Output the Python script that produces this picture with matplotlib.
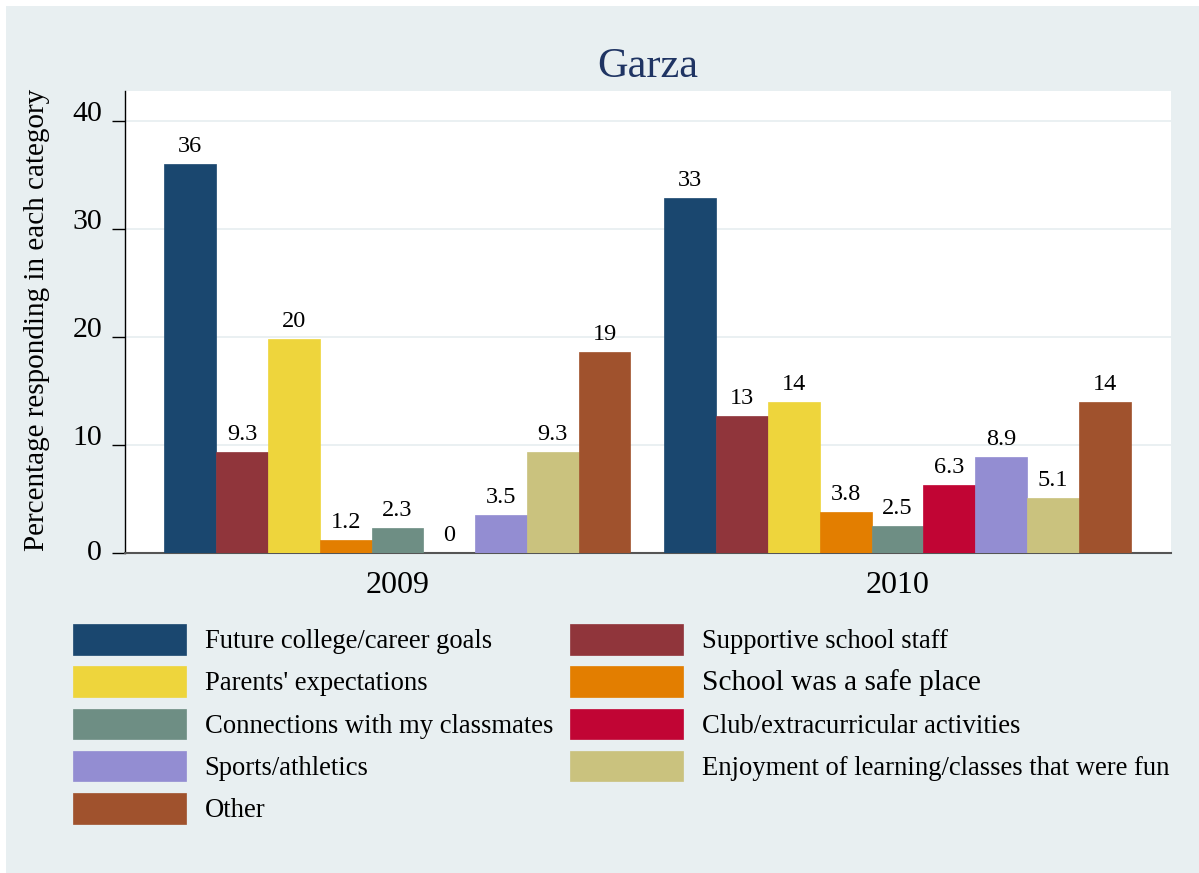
import matplotlib
matplotlib.use('Agg')
import matplotlib.pyplot as plt
from matplotlib.patches import Rectangle, Patch

plt.rcParams['font.family'] = ['Liberation Serif', 'DejaVu Serif']

# ---------------- data ----------------
years = ['2009', '2010']
categories = ['Future college/career goals', 'Supportive school staff',
              "Parents' expectations", 'School was a safe place',
              'Connections with my classmates', 'Club/extracurricular activities',
              'Sports/athletics', 'Enjoyment of learning/classes that were fun',
              'Other']
values_2009 = [36.1, 9.3, 19.8, 1.2, 2.3, 0.0, 3.5, 9.3, 18.6]
values_2010 = [32.9, 12.7, 14.0, 3.8, 2.5, 6.3, 8.9, 5.1, 14.0]
colors = ['#1a476f', '#90353b', '#eed53c', '#e37e00', '#6e8e84',
          '#c10534', '#938dd2', '#cac27e', '#a0522d']
y_ticks = [0, 10, 20, 30, 40]
title = 'Garza'
ylabel = 'Percentage responding in each category'

# ---------------- layout ----------------
W, H = 1199, 873
fig = plt.figure(figsize=(W / 100, H / 100), dpi=100)
fig.patch.set_facecolor('white')
bg = '#e8eff1'
fig.add_artist(Rectangle((6 / W, 0), 1 - 6 / W, 1 - 6 / H, transform=fig.transFigure,
                         facecolor=bg, edgecolor='none', zorder=-10))

ax_top, ax_bot, ax_left, ax_right = 91, 552.5, 125, 1171
ax = fig.add_axes([ax_left / W, (H - ax_bot) / H, (ax_right - ax_left) / W, (ax_bot - ax_top) / H])
ax.set_facecolor('white')

n = len(categories)
gap = 0.656
group_starts = [0.0, n + gap]
series_values = [values_2009, values_2010]

for i, cat in enumerate(categories):
    xs = [group_starts[g] + i + 0.5 for g in range(len(years))]
    hs = [series_values[g][i] for g in range(len(years))]
    ax.bar(xs, hs, width=1.0, color=colors[i], edgecolor=colors[i],
           linewidth=0.5, label=cat, zorder=3)
    for x, h in zip(xs, hs):
        ax.annotate(f'{h:.2g}', xy=(x, h), xytext=(0, 8.6), textcoords='offset points',
                    ha='center', va='baseline', fontsize=17.5, color='black', zorder=4)

ax.set_xlim(-0.76, 2 * n + gap + 0.78)
ax.set_ylim(0, 42.83)

ax.set_yticks(y_ticks)
ax.set_yticklabels([str(t) for t in y_ticks])
ax.tick_params(axis='y', length=9.4, width=1, pad=7.0, labelsize=21.5, direction='out',
               colors='black')
for t, lbl in zip(y_ticks, ax.get_yticklabels()):
    lbl.set_verticalalignment('center' if t == 0 else 'baseline')

ax.set_xticks([s + n / 2 for s in group_starts])
ax.set_xticklabels(years)
ax.tick_params(axis='x', length=0, pad=13, labelsize=23)

ax.yaxis.grid(True, color='#e6eef0', linewidth=1.2)
ax.set_axisbelow(True)
for s in ['top', 'right']:
    ax.spines[s].set_visible(False)
ax.spines['left'].set_color('black')
ax.spines['left'].set_linewidth(1.0)
ax.spines['bottom'].set_color('#555555')
ax.spines['bottom'].set_linewidth(1.5)

# title and y label
fig.text(648 / W, 1 - 77.3 / H, title, ha='center', va='baseline', fontsize=30.5,
         color='#1f3463')
fig.text(37.5 / W, 1 - 320 / H, ylabel, rotation=90, ha='center', va='center',
         fontsize=21, color='black')

# legend (row-major order displayed in 2 columns)
order = [0, 2, 4, 6, 8, 1, 3, 5, 7]
handles = [Patch(facecolor=colors[k], edgecolor=colors[k], linewidth=0.5) for k in order]
labels = [categories[k] for k in order]
leg = fig.legend(handles, labels, loc='upper left', bbox_to_anchor=(73 / W, 1 - 624 / H),
                 ncol=2, frameon=False, fontsize=19.2, handlelength=4.24,
                 handleheight=1.392, handletextpad=0.70, columnspacing=0.64,
                 labelspacing=0.435, borderaxespad=0, borderpad=0)
for txt in leg.get_texts():
    if txt.get_text() == 'School was a safe place':
        txt.set_fontsize(21.2)

fig.savefig('out.png', dpi=100, facecolor=fig.get_facecolor())
